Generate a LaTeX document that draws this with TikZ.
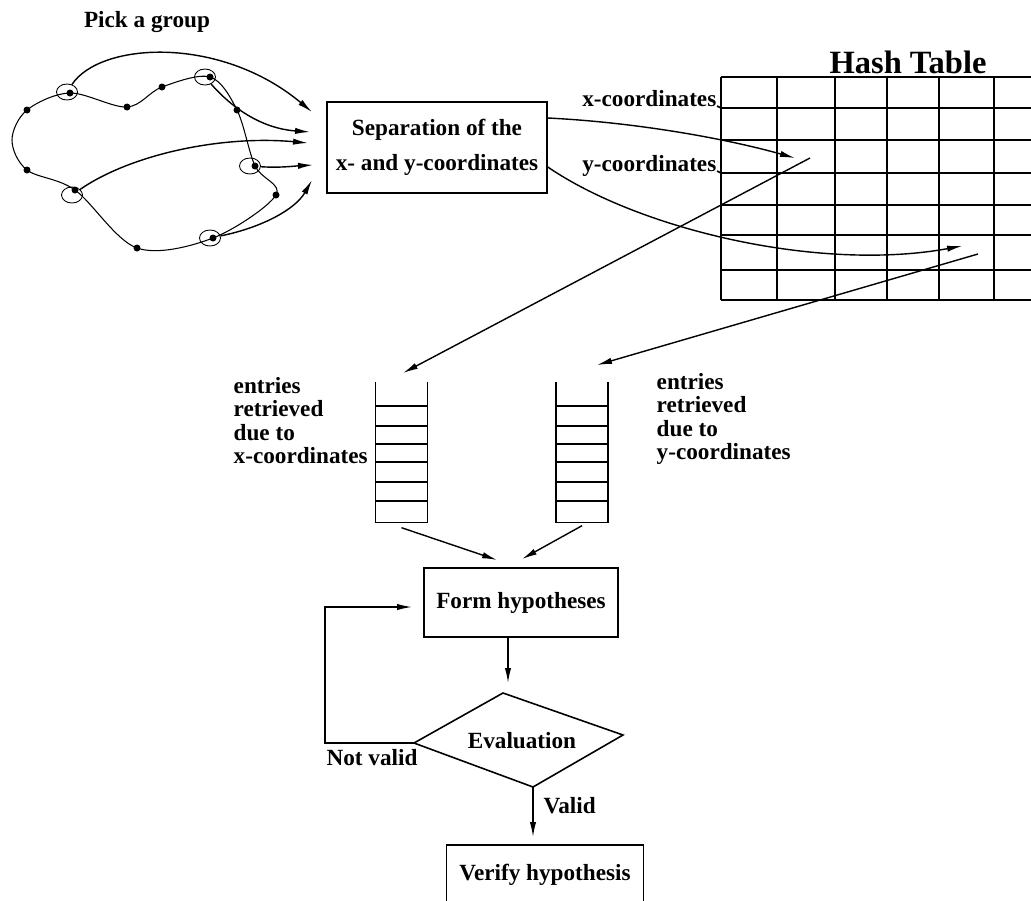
\documentclass[tikz,border=0pt]{standalone}
\usepackage{fontspec}
\setmainfont{Liberation Serif}
\usetikzlibrary{shapes.geometric, arrows.meta}

\tikzset{
  txt/.style={font=\bfseries\fontsize{13.2}{13.2}\selectfont, inner sep=0pt},
  box/.style={draw, line width=0.9pt, txt, align=center},
  pick/.style={draw, ellipse, line width=0.5pt, minimum width=0.42cm, minimum height=0.32cm, inner sep=0pt},
  dot/.style={circle, fill, inner sep=0pt, minimum size=0.14cm},
  grid/.style={line width=0.9pt},
}

\begin{document}
\begin{tikzpicture}[x=0.02cm, y=-0.02cm, line width=0.8pt, >={Latex[length=8.5pt,width=3.6pt]}]
\clip (0,0) rectangle (1031,900);

% the group of points
\node[txt](title) at (147,22) {Pick a group};
\node[dot](p1) at (70,93) {};
\node[dot](p2) at (127,107) {};
\node[dot](p3) at (162,87) {};
\node[dot](p4) at (210,77) {};
\node[dot](p5) at (237,110) {};
\node[dot](p6) at (255,166) {};
\node[dot](p7) at (276,195) {};
\node[dot](p8) at (213,238) {};
\node[dot](p9) at (137,248) {};
\node[dot](p10) at (75,190) {};
\node[dot](p11) at (27,170) {};
\coordinate (hl) at (12,140);
\node[dot](p12) at (27,110) {};
\draw[line width=0.6pt] plot[smooth cycle, tension=0.55] coordinates {(p1.center) (p2.center) (p3.center) (p4.center) (p5.center) (p6.center) (p7.center) (p8.center) (p9.center) (p10.center) (p11.center) (hl) (p12.center)};
\node[pick](g1) at (67,92) {};
\node[pick](g5) at (205,77) {};
\node[pick](g4) at (250,166) {};
\node[pick](g3) at (210,238) {};
\node[pick](g2) at (72,195) {};

% separation
\node[box, minimum width=4.4cm, minimum height=1.82cm, font=\bfseries\fontsize{13.2}{20}\selectfont](sep) at (437,147.5) {Separation of the\\x- and y-coordinates};
\coordinate (t1) at (312,112);
\coordinate (t2) at (310,132);
\coordinate (t3) at (308,143);
\coordinate (t4) at (313,165);
\coordinate (t5) at (312,180);
\draw[->] (g1) .. controls (100,42) and (220,35) .. (t1);
\draw[->] (g5) .. controls (225,100) and (255,128) .. (t2);
\draw[->] (g2) .. controls (130,155) and (220,135) .. (t3);
\draw[->] (g4) .. controls (280,168) and (295,166) .. (t4);
\draw[->] (g3) .. controls (260,228) and (295,210) .. (t5);

% hash table
\node[inner sep=0pt, font=\bfseries\fontsize{18.5}{18.5}\selectfont](hash) at (908,62) {Hash Table};
\foreach \x in {721,777,835,887,939,994}
  \draw[grid] (\x,77) -- (\x,300);
\foreach \y in {77,108,140,173,205,235,270,300}
  \draw[grid] (721,\y) -- (1040,\y);
\node[txt, anchor=base east](xlab) at (717,106) {x-coordinates};
\node[txt, anchor=base east](ylab) at (717,171) {y-coordinates};
\draw[grid] (xlab.base east) -- (721,108);
\draw[grid] (ylab.base east) -- (721,173);

\coordinate (xin) at (795,158);
\coordinate (yin) at (962,246);
\coordinate (xout) at (810,158);
\coordinate (yout) at (978,254);
\draw[->] ([yshift=0.59cm]sep.east) .. controls (630,122) and (720,137) .. (xin);
\draw[->] ([yshift=-0.39cm]sep.east) .. controls (640,230) and (820,272) .. (yin);

% retrieved entries
\node[minimum width=1.02cm, minimum height=2.78cm, inner sep=0pt](xbuck) at (401.5,452.5) {};
\node[minimum width=1.02cm, minimum height=2.78cm, inner sep=0pt](ybuck) at (582,452.5) {};
\draw[grid] (xbuck.north west) -- (xbuck.south west) -- (xbuck.south east) -- (xbuck.north east);
\draw[grid] (ybuck.north west) -- (ybuck.south west) -- (ybuck.south east) -- (ybuck.north east);
\foreach \y in {406,426,444,462,482,501} {
  \draw[grid] (xbuck.west |- 0,\y) -- (xbuck.east |- 0,\y);
  \draw[grid] (ybuck.west |- 0,\y) -- (ybuck.east |- 0,\y);
}
\node[txt, align=left, anchor=north west](xent) at (233,377) {entries\\retrieved\\due to\\x-coordinates};
\node[txt, align=left, anchor=north west](yent) at (656,373) {entries\\retrieved\\due to\\y-coordinates};
\coordinate (xtip) at (403,373);
\coordinate (ytip) at (597,365);
\draw[->] (xout) -- (xtip);
\draw[->] (yout) -- (ytip);

% hypotheses
\node[box, minimum width=3.88cm, minimum height=1.38cm](form) at (521,602.5) {Form hypotheses};
\coordinate (fin1) at (497,560);
\coordinate (fin2) at (522,559);
\draw[->] ([yshift=-0.1cm]xbuck.south) -- (fin1);
\draw[->] ([yshift=-0.06cm]ybuck.south) -- (fin2);

\coordinate (etop) at (503,693);
\coordinate (eright) at (623,735);
\coordinate (ebot) at (533,787);
\coordinate (eleft) at (414,743);
\draw[line width=0.9pt] (etop) -- (eright) -- (ebot) -- (eleft) -- cycle;
\node[txt](eval) at (522,741) {Evaluation};
\coordinate (fdown) at (508,683);
\draw[->] (form.south -| fdown) -- (fdown);

\coordinate (loopin) at (412,607);
\draw[->] (eleft) -- ++(-89,0) |- (loopin);
\node[txt](nv) at (372,758) {Not valid};

\node[box, minimum width=3.94cm, minimum height=1.2cm](verify) at (545,875) {Verify hypothesis};
\coordinate (vin) at (533,837);
\draw[->] (ebot) -- (vin);
\node[txt, anchor=west](valid) at (543,806) {Valid};
\end{tikzpicture}
\end{document}
